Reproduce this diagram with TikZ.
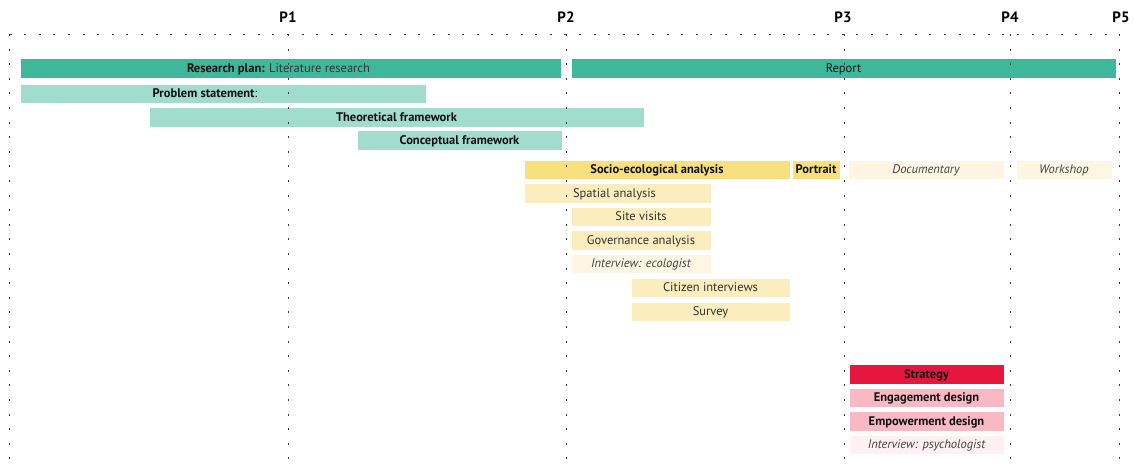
\documentclass[tikz,border=0pt]{standalone}
\usepackage{fontspec}
\setmainfont{PT Sans}
\definecolor{tealD}{HTML}{3FB79A}
\definecolor{tealL}{HTML}{A2DCCD}
\definecolor{yelD}{HTML}{F8E07F}
\definecolor{yelL}{HTML}{FBEDBE}
\definecolor{yelP}{HTML}{FEF6E2}
\definecolor{redD}{HTML}{E5173E}
\definecolor{pinkL}{HTML}{F8B9C4}
\definecolor{pinkP}{HTML}{FEF0F3}
\definecolor{txtD}{HTML}{111111}
\definecolor{txtG}{HTML}{333333}
\definecolor{txtI}{HTML}{444444}
\definecolor{dotc}{HTML}{3A3A3A}
\tikzset{
  bar/.style={rectangle, inner sep=0pt, minimum height=19.5pt, text height=8.8pt, text depth=0pt,
    draw=white, line width=0.4pt,
    font=\fontsize{12.5}{14}\selectfont, text=txtD},
  bbold/.style={bar, font=\fontsize{12.5}{14}\selectfont\bfseries},
  bital/.style={bar, font=\fontsize{12.5}{14}\selectfont\itshape, text=txtI},
  breg/.style={bar, text=txtG},
  plabel/.style={font=\fontsize{15}{17}\selectfont\bfseries, text=black, inner sep=0pt},
  grid/.style={dotc, line width=0.9pt, dash pattern=on 2pt off 12.6pt}
}
\begin{document}
\begin{tikzpicture}[x=1pt,y=-1pt]
\useasboundingbox (0,0) rectangle (1134,473);
% bars
\node[bar, fill=tealD, minimum width=541pt] (res) at (290.5,68) {\textbf{Research plan:} \textcolor{txtG}{Literature research}\hspace*{24pt}};
\node[breg, fill=tealD, minimum width=545pt, text=txtD] (rep) at (843.5,68) {Report};
\node[bbold, fill=tealL, minimum width=406pt] (prob) at (223,93.5) {Problem statement\textmd{:}\hspace*{36pt}};
\node[bbold, fill=tealL, minimum width=495pt] (theo) at (396.5,117) {Theoretical framework};
\node[bbold, fill=tealL, minimum width=205pt] (conc) at (459.5,140) {Conceptual framework};
\node[bbold, fill=yelD, minimum width=266pt] (socio) at (657,169.5) {Socio-ecological analysis};
\node[bbold, fill=yelD, minimum width=48pt] (port) at (816,169.5) {Portrait};
\node[bital, fill=yelP, minimum width=156pt] (doc) at (926,169.5) {Documentary};
\node[bital, fill=yelP, minimum width=96pt] (work) at (1064,169.5) {Workshop};
\node[breg, fill=yelL, minimum width=187pt] (spat) at (617.5,193) {Spatial analysis\hspace*{6pt}};
\node[breg, fill=yelL, minimum width=140pt] (site) at (641,216.5) {Site visits};
\node[breg, fill=yelL, minimum width=140pt] (gov) at (641,240) {Governance analysis};
\node[bital, fill=yelP, minimum width=140pt] (inte) at (641,263.5) {Interview: ecologist};
\node[breg, fill=yelL, minimum width=159pt] (cit) at (710.5,287.5) {Citizen interviews};
\node[breg, fill=yelL, minimum width=159pt] (surv) at (710.5,311.5) {Survey};
\node[bbold, fill=redD, minimum width=155pt] (strat) at (926.5,374) {Strategy};
\node[bbold, fill=pinkL, minimum width=155pt] (eng) at (926.5,397.5) {Engagement design};
\node[bbold, fill=pinkL, minimum width=155pt] (emp) at (926.5,421) {Empowerment design};
\node[bital, fill=pinkP, minimum width=155pt] (intp) at (926.5,444.5) {Interview: psychologist};
% grid
\draw[grid] (9.5,34) -- (1119,34);
\foreach \xx in {9.5,288,566,844,1010,1119}{
  \draw[grid] (\xx,34) -- (\xx,463);
}
% milestone labels
\node[plabel] (p1) at (288,17) {P1};
\node[plabel] (p2) at (566,17) {P2};
\node[plabel] (p3) at (843,17) {P3};
\node[plabel] (p4) at (1010,17) {P4};
\node[plabel] (p5) at (1121,17) {P5};
\end{tikzpicture}
\end{document}
